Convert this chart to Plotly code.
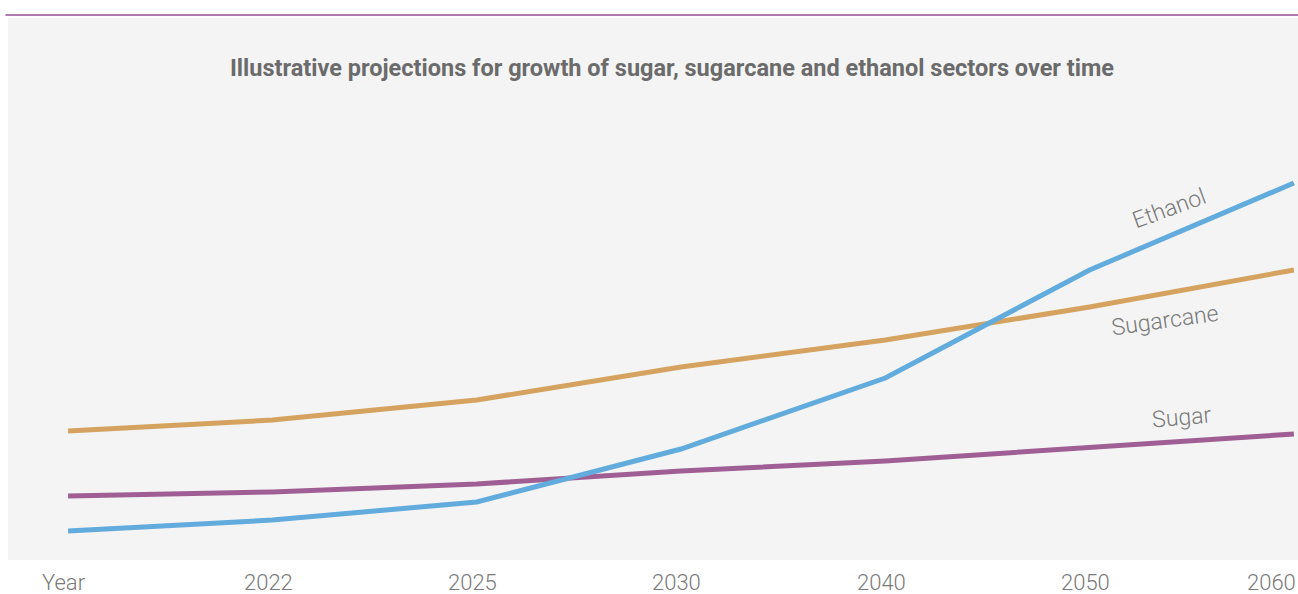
import plotly.graph_objects as go

categories = ["Year", "2022", "2025", "2030", "2040", "2050", "2060"]
sugarcane = [32.25, 35.0, 40.0, 48.25, 55.0, 63.25, 72.5]
sugar = [16.0, 17.0, 19.0, 22.25, 24.75, 28.0, 31.5]
ethanol = [7.25, 10.0, 14.5, 27.75, 45.5, 72.5, 94.25]

series = [
    ("Sugarcane", sugarcane, "#D5A35F"),
    ("Sugar", sugar, "#A05F94"),
    ("Ethanol", ethanol, "#62ABDD"),
]

xs = list(range(len(categories)))
fig = go.Figure()
for name, vals, col in series:
    fig.add_trace(go.Scatter(x=xs, y=vals, mode="lines", name=name,
                             line=dict(color=col, width=5), hoverinfo="skip"))

# x tick labels as annotations (last one right-aligned to panel edge)
for i, c in enumerate(categories):
    last = i == len(categories) - 1
    fig.add_annotation(x=i + (0.02 if last else -0.02), y=0, xref="x", yref="paper",
                       text=c, showarrow=False, yanchor="top", yshift=-8,
                       xanchor="right" if last else "center",
                       font=dict(family="Roboto", size=22, color="#7a7a7a", weight=300))

# line labels
labels = [("Ethanol", 5.39, 88.0, -20), ("Sugarcane", 5.37, 60.0, -8), ("Sugar", 5.45, 35.75, -5)]
for txt, x, y, ang in labels:
    fig.add_annotation(x=x, y=y, text=txt, showarrow=False, textangle=ang,
                       xanchor="center", yanchor="middle",
                       font=dict(family="Roboto", size=23, color="#7a7a7a", weight=300))

fig.add_annotation(x=0.515, y=0.908, xref="paper", yref="paper", showarrow=False,
                   xanchor="center", yanchor="middle",
                   text="<b>Illustrative projections for growth of sugar, sugarcane and ethanol sectors over time</b>",
                   font=dict(family="Roboto", size=23.5, color="#6b6b6b"))

fig.add_shape(type="line", xref="paper", yref="paper", x0=-0.002, x1=1.0,
              y0=1.0055, y1=1.0055, line=dict(color="#B07AAE", width=2))

fig.update_layout(
    width=1298, height=594,
    margin=dict(l=8, r=0, t=18, b=34),
    paper_bgcolor="white", plot_bgcolor="#F4F4F4",
    showlegend=False,
    xaxis=dict(range=[-0.294, 6.02], showgrid=False, zeroline=False,
               showticklabels=False, fixedrange=True),
    yaxis=dict(range=[0, 135.5], showgrid=False, zeroline=False,
               showticklabels=False, fixedrange=True),
)

fig.write_html("out.html", config={"displayModeBar": False},
               post_script="document.body.style.margin='0';document.body.style.overflow='hidden';")
